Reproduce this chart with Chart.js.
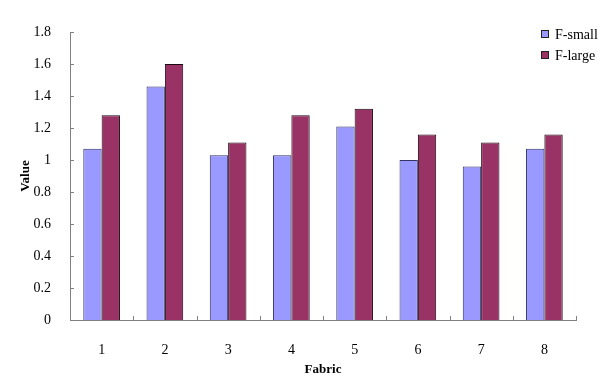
<!DOCTYPE html>
<html>
<head>
<meta charset="utf-8">
<script src="https://cdn.jsdelivr.net/npm/chart.js@4.4.1/dist/chart.umd.min.js"></script>
<style>
  html, body { margin: 0; padding: 0; background: #fff; }
  #wrap { width: 602px; height: 385px; }
</style>
</head>
<body>
<div id="wrap"><canvas id="chart" width="602" height="385"></canvas></div>
<script>
const fabrics = ["1", "2", "3", "4", "5", "6", "7", "8"];
const fSmall = [1.07, 1.46, 1.03, 1.03, 1.21, 1.0, 0.96, 1.07];
const fLarge = [1.28, 1.6, 1.11, 1.28, 1.32, 1.16, 1.11, 1.16];
const yTicks = [0, 0.2, 0.4, 0.6, 0.8, 1, 1.2, 1.4, 1.6, 1.8];

const SERIF = "'Liberation Serif', 'Times New Roman', serif";
const AXIS_COLOR = "#808080";

// short tick marks pointing into the plot, like the original
const innerTicks = {
    id: "innerTicks",
    afterDatasetsDraw(chart) {
        const { ctx, chartArea, scales } = chart;
        ctx.save();
        ctx.strokeStyle = AXIS_COLOR;
        ctx.lineWidth = 1;
        ctx.beginPath();
        for (const v of yTicks) {
            const y = Math.round(scales.y.getPixelForValue(v)) + 0.5;
            ctx.moveTo(chartArea.left, y);
            ctx.lineTo(chartArea.left + 4, y);
        }
        for (let i = 0; i <= fabrics.length; i++) {
            const x = Math.round(scales.x.getPixelForValue(i - 0.5)) + 0.5;
            ctx.moveTo(x, chartArea.bottom);
            ctx.lineTo(x, chartArea.bottom - 4);
        }
        ctx.stroke();
        ctx.restore();
    },
};

const boxLegend = {
    id: "boxLegend",
    afterDraw(chart) {
        const { ctx } = chart;
        ctx.save();
        ctx.font = "14px " + SERIF;
        ctx.textBaseline = "middle";
        chart.data.datasets.forEach((ds, i) => {
            const y = 34 + i * 21;
            ctx.fillStyle = ds.backgroundColor;
            ctx.fillRect(542, y - 3, 6, 6);
            ctx.strokeStyle = "#222";
            ctx.lineWidth = 1;
            ctx.strokeRect(541.5, y - 3.5, 7, 7);
            ctx.fillStyle = "#000";
            ctx.fillText(ds.label, 555, y + 1);
        });
        ctx.restore();
    },
};

new Chart(document.getElementById("chart"), {
    type: "bar",
    data: {
        labels: fabrics,
        datasets: [
            {
                label: "F-small",
                data: fSmall,
                backgroundColor: "#9999FF",
                borderColor: "#333366",
                borderWidth: 1,
                categoryPercentage: 0.58,
                barPercentage: 1,
            },
            {
                label: "F-large",
                data: fLarge,
                backgroundColor: "#993366",
                borderColor: "#1a0a10",
                borderWidth: 1,
                categoryPercentage: 0.58,
                barPercentage: 1,
            },
        ],
    },
    options: {
        responsive: false,
        animation: false,
        layout: { padding: { left: 0, right: 26, top: 32, bottom: 0 } },
        scales: {
            x: {
                grid: { display: false },
                border: { display: true, color: AXIS_COLOR, width: 1 },
                ticks: {
                    color: "#000",
                    padding: 14,
                    maxRotation: 0,
                    font: { family: SERIF, size: 14 },
                },
                title: {
                    display: true,
                    text: "Fabric",
                    color: "#000",
                    padding: { top: 0, bottom: 8 },
                    font: { family: SERIF, size: 13, weight: "bold" },
                },
                afterFit: (scale) => { scale.height = 65; },
            },
            y: {
                min: 0,
                max: 1.8,
                grid: { display: false },
                border: { display: true, color: AXIS_COLOR, width: 1 },
                afterBuildTicks: (scale) => {
                    scale.ticks = yTicks.map((v) => ({ value: v }));
                },
                ticks: {
                    color: "#000",
                    padding: 11,
                    font: { family: SERIF, size: 14 },
                    callback: (v) => String(Math.round(v * 10) / 10),
                },
                title: {
                    display: true,
                    text: "Value",
                    color: "#000",
                    padding: { top: 18, bottom: 0 },
                    font: { family: SERIF, size: 13, weight: "bold" },
                },
                afterFit: (scale) => { scale.width = 70; },
            },
        },
        plugins: {
            legend: { display: false },
            tooltip: { enabled: false },
        },
    },
    plugins: [innerTicks, boxLegend],
});
</script>
</body>
</html>
